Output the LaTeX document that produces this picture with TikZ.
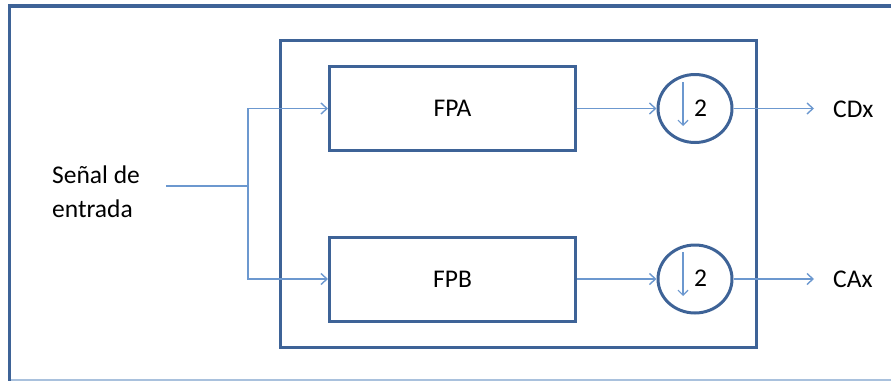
\documentclass[tikz,border=0pt]{standalone}
\usepackage{fontspec}
\setmainfont{Carlito}
\usetikzlibrary{arrows.meta,shapes.geometric}
\definecolor{frameblue}{HTML}{3E6397}
\definecolor{wireblue}{HTML}{6C98CF}
\definecolor{paleblue}{HTML}{A9C1DD}
\tikzset{
  blockbox/.style={draw=frameblue,line width=3pt,minimum width=246pt,minimum height=84pt,font=\fontsize{25.5}{30}\selectfont,inner sep=0pt},
  decim/.style={draw=frameblue,line width=3pt,ellipse,minimum width=74pt,minimum height=68pt,inner sep=0pt},
  wire/.style={draw=wireblue,line width=1.4pt},
  sig/.style={wire,-{Straight Barb[length=6pt,width=11pt,line width=1.4pt]}},
  lbl/.style={font=\fontsize{25.5}{34}\selectfont,inner sep=0pt}
}
\begin{document}
\begin{tikzpicture}[x=1pt,y=-1pt]
\useasboundingbox (0,0) rectangle (891,381);
% page frame
\draw[paleblue,line width=2pt] (10,379.5) -- (891,379.5);
\draw[frameblue,line width=3.5pt] (891,6) -- (9.5,6) -- (9.5,381);
% enclosing box
\node[draw=frameblue,line width=3pt,minimum width=476pt,minimum height=307pt,inner sep=0pt] (outer) at (518,194) {};
% filters
\node[blockbox] (fpa) at (452.5,108.5) {FPA};
\node[blockbox] (fpb) at (452.5,279) {FPB};
% downsamplers
\node[decim] (da) at (695,108.5) {};
\node[decim] (db) at (695,279) {};
\node[lbl] (na) at (700.5,108) {2};
\node[lbl] (nb) at (700.5,278.5) {2};
\coordinate (aa1) at (683,82);
\coordinate (aa2) at (683,126);
\coordinate (ab1) at (683,252);
\coordinate (ab2) at (683,296);
\draw[wire,-{Straight Barb[length=5pt,width=10pt,line width=1.2pt]},line width=1.2pt] (aa1) -- (aa2);
\draw[wire,-{Straight Barb[length=5pt,width=10pt,line width=1.2pt]},line width=1.2pt] (ab1) -- (ab2);
% input
\node[lbl,align=left,anchor=west] (inp) at (52,192) {Señal de\\entrada};
\coordinate (src) at (166,186);
\coordinate (split) at (248,186);
\draw[wire] (src) -- (split);
\draw[sig] (split) |- (fpa.west);
\draw[sig] (split) |- (fpb.west);
% filter to downsampler
\draw[sig] (fpa.east) -- (da.west);
\draw[sig] (fpb.east) -- (db.west);
% outputs
\node[lbl,anchor=west] (cd) at (833,109) {CDx};
\node[lbl,anchor=west] (ca) at (833,279) {CAx};
\draw[sig] (da.east) -- (814,108.5);
\draw[sig] (db.east) -- (814,279);
\end{tikzpicture}
\end{document}
